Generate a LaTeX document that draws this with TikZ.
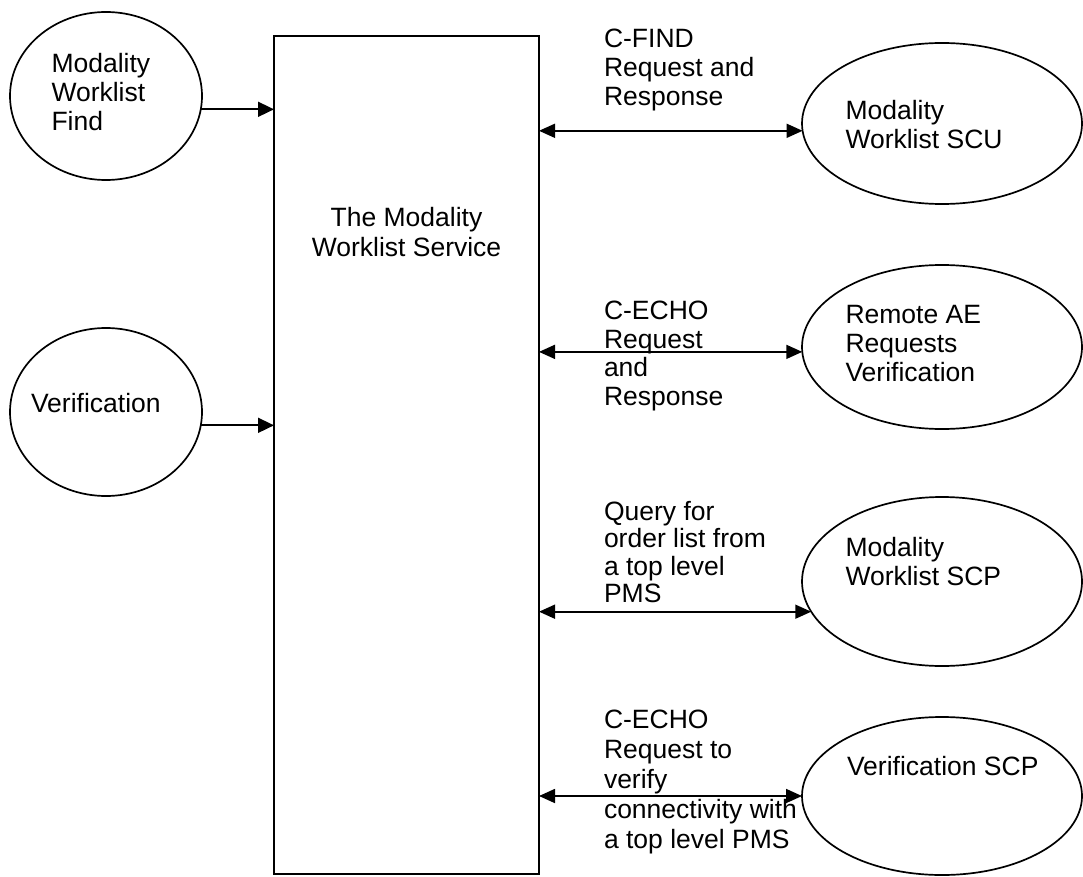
\documentclass[tikz,border=0pt]{standalone}
\usepackage{fontspec}
\setmainfont{Liberation Sans}
\usetikzlibrary{arrows.meta,shapes.geometric}
\newcommand{\mystrut}{\rule{0pt}{20pt}}
\begin{document}
\begin{tikzpicture}[x=1pt,y=-1pt,
  every node/.style={inner sep=0pt, outer sep=0pt},
  oval/.style={draw, line width=1.7pt, ellipse},
  leftoval/.style={oval, minimum width=192pt, minimum height=168pt},
  rightoval/.style={oval, minimum width=280pt, minimum height=164pt},
  txt/.style={anchor=north west, align=left, font=\fontsize{26.5}{29}\selectfont},
  tip/.style={},
  arr/.style={line width=1.7pt, -{Triangle[length=16pt,width=15pt]}},
  darr/.style={line width=1.7pt, {Triangle[length=16pt,width=14pt]}-{Triangle[length=16pt,width=14pt]}}]
\useasboundingbox (0,0) rectangle (1083,877);
% main box
\node[draw, line width=1.7pt, minimum width=265pt, minimum height=838pt] (box) at (406.5,455) {};
\node[anchor=north, align=center, font=\fontsize{26.5}{29}\selectfont] (boxtxt) at (406.5,207) {\mystrut The Modality\\Worklist Service};
% left ellipses
\node[leftoval] (lf) at (106,96) {};
\node[txt] (lft) at (51.5,53) {\mystrut Modality\\Worklist\\Find};
\node[leftoval] (lv) at (106,412) {};
\node[txt] (lvt) at (31,392) {\mystrut Verification};
\draw[arr] (lf.352) -- (lf.352 -| box.west);
\draw[arr] (lv.352) -- (lv.352 -| box.west);
% right ellipses
\node[rightoval, minimum height=161pt] (scu) at (942,123.5) {};
\node[txt] (scut) at (845.5,100) {\mystrut Modality\\Worklist SCU};
\node[rightoval] (rae) at (942,347) {};
\node[txt] (raet) at (845.5,303) {\mystrut Remote AE\\Requests\\Verification};
\node[rightoval, minimum height=169pt] (scp) at (942,581.5) {};
\node[txt] (scpt) at (845.5,536) {\mystrut Modality\\Worklist SCP};
\node[rightoval, minimum height=158pt] (vscp) at (942,796) {};
\node[txt] (vscpt) at (847,755) {\mystrut Verification SCP};
% connector labels
\node[txt] (l1) at (604,28) {\mystrut C-FIND\\Request and\\Response};
\node[txt, font=\fontsize{26.5}{28.5}\selectfont] (l2) at (604,299.5) {\mystrut C-ECHO\\Request\\and\\Response};
\node[txt, font=\fontsize{26.5}{27.5}\selectfont] (l3) at (604,500) {\mystrut Query for\\order list from\\a top level\\PMS};
\node[txt, font=\fontsize{26.5}{30}\selectfont] (l4) at (604,708) {\mystrut C-ECHO\\Request to\\verify\\connectivity with\\a top level PMS};
% double arrows
\draw[darr] (scu.183.9 -| box.east) -- (scu.183.9);
\draw[darr] (rae.182 -| box.east) -- (rae.182);
\draw[darr] (scp.193.6 -| box.east) -- (scp.193.6);
\draw[darr] (vscp.180.5 -| box.east) -- (vscp.180.5);
\end{tikzpicture}
\end{document}
